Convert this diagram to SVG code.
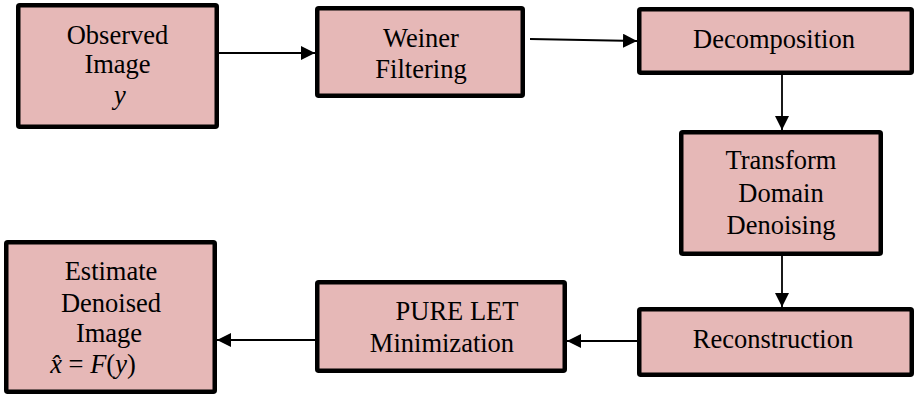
<svg xmlns="http://www.w3.org/2000/svg" width="915" height="396" viewBox="0 0 915 396">
<style>
.box{fill:#E6B8B7;stroke:#000;stroke-width:4.5;}
text{font-family:'Liberation Serif','Times New Roman','DejaVu Serif',serif;font-size:26.5px;fill:#000;text-anchor:middle;}
.m{font-style:italic;}
.c{stroke:#000;stroke-width:1.8;fill:none;marker-end:url(#ah);}
</style>
<defs>
<marker id="ah" markerUnits="userSpaceOnUse" markerWidth="15" markerHeight="15" refX="14" refY="7" orient="auto">
<path d="M0,0 L14,7 L0,14 z" fill="#000"/>
</marker>
</defs>
<rect width="915" height="396" fill="#fff"/>
<g id="connectors">
<path class="c" d="M219,53 L315,53"/>
<path class="c" d="M530,39 L637,41"/>
<path class="c" d="M782,75 L782,130"/>
<path class="c" d="M782,256 L782,307"/>
<path class="c" d="M637,341 L567,341"/>
<path class="c" d="M315,340 L217,340"/>
</g>
<g id="observed">
<rect class="box" x="18.25" y="5.25" width="198.5" height="121.5" rx="1.5"/>
<text x="117.5" y="44">Observed</text>
<text x="117.5" y="73">Image</text>
<text class="m" x="120" y="104" font-size="25">y</text>
</g>
<g id="weiner">
<rect class="box" x="317.25" y="8.25" width="205.5" height="87.5" rx="1.5"/>
<text x="421" y="47">Weiner</text>
<text x="421" y="78">Filtering</text>
</g>
<g id="decomposition">
<rect class="box" x="639.25" y="9.25" width="272.5" height="63.5" rx="1.5"/>
<text x="774" y="48">Decomposition</text>
</g>
<g id="transform">
<rect class="box" x="681.25" y="132.25" width="199.5" height="121.5" rx="1.5"/>
<text x="781" y="169">Transform</text>
<text x="781" y="202">Domain</text>
<text x="781" y="234">Denoising</text>
</g>
<g id="reconstruction">
<rect class="box" x="639.25" y="309.25" width="272.5" height="65.5" rx="1.5"/>
<text x="773" y="348">Reconstruction</text>
</g>
<g id="purelet">
<rect class="box" x="317.25" y="282.25" width="247.5" height="88.5" rx="1.5"/>
<text x="457" y="320">PURE LET</text>
<text x="442" y="352">Minimization</text>
</g>
<g id="estimate">
<rect class="box" x="6.25" y="242.25" width="208.5" height="149.5" rx="1.5"/>
<text x="111" y="280">Estimate</text>
<text x="111" y="312">Denoised</text>
<text x="109" y="342">Image</text>
<text x="93" y="373"><tspan class="m">x̂</tspan> = <tspan class="m">F</tspan>(<tspan class="m">y</tspan>)</text>
</g>
</svg>
